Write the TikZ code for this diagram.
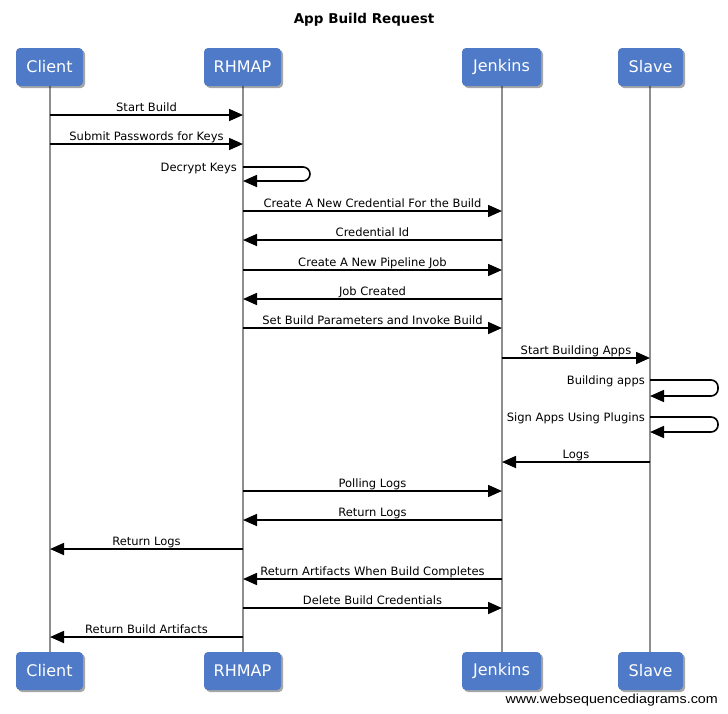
\documentclass[tikz,border=0pt]{standalone}
\usepackage{fontspec}
\setmainfont{DejaVu Sans}
\newfontfamily\footfont{Liberation Sans}
\usetikzlibrary{arrows.meta,shadows}
\definecolor{boxblue}{HTML}{4F7AC7}
\definecolor{lifegray}{HTML}{8E8E8E}
\begin{document}
\begin{tikzpicture}[x=1pt,y=-1pt,
  actor/.style={draw=none,fill=boxblue,rounded corners=4pt,minimum width=#1,minimum height=38pt,
    text=white,font=\fontsize{16}{16}\selectfont,inner sep=0pt,
    drop shadow={shadow xshift=2pt,shadow yshift=-2pt,opacity=0.35,fill=black}},
  lifeline/.style={draw=lifegray,line width=2pt},
  msg/.style={draw=black,line width=1.6pt,-{Triangle[length=14pt,width=12pt]}},
  lbl/.style={font=\fontsize{11.5}{12}\selectfont,inner sep=0pt,anchor=base},
  slbl/.style={font=\fontsize{11.5}{12}\selectfont,inner sep=0pt,anchor=base east}]
\useasboundingbox (0,0) rectangle (728,713);
\node[font=\bfseries\fontsize{13.5}{14}\selectfont] (title) at (364,20) {App Build Request};
% lifelines
\coordinate (ct) at (50,86); \coordinate (cb) at (50,652);
\coordinate (rt) at (243,86); \coordinate (rb) at (243,652);
\coordinate (jt) at (502,86); \coordinate (jb) at (502,652);
\coordinate (st) at (650,86); \coordinate (sb) at (650,652);
\draw[lifeline] (ct) -- (cb);
\draw[lifeline] (rt) -- (rb);
\draw[lifeline] (jt) -- (jb);
\draw[lifeline] (st) -- (sb);
% actor boxes
\node[actor=67pt] (c1) at (49.5,67) {Client};
\node[actor=77pt] (r1) at (242.5,67) {RHMAP};
\node[actor=79pt] (j1) at (501.5,67) {Jenkins};
\node[actor=65pt] (s1) at (650.5,67) {Slave};
\node[actor=67pt] (c2) at (49.5,671) {Client};
\node[actor=77pt] (r2) at (242.5,671) {RHMAP};
\node[actor=79pt] (j2) at (501.5,671) {Jenkins};
\node[actor=65pt] (s2) at (650.5,671) {Slave};
% message endpoints
\foreach \n/\y in {1/115,2/144,4/211,5/240,6/270,7/299,8/328,9/358,12/462,13/491,14/520,15/549,16/579,17/608,18/637}{
  \coordinate (C\n) at (50,\y);
  \coordinate (R\n) at (243,\y);
  \coordinate (J\n) at (502,\y);
  \coordinate (S\n) at (650,\y);
}
\draw[msg] (C1) -- node[lbl,yshift=4pt]{Start Build} (R1);
\draw[msg] (C2) -- node[lbl,yshift=4pt]{Submit Passwords for Keys} (R2);
% self message decrypt
\coordinate (d1) at (243,167); \coordinate (d2) at (243,181);
\draw[line width=1.6pt,rounded corners=7pt,-{Triangle[length=14pt,width=12pt]}] (d1) -- (310,167) -- (310,181) -- (d2);
\node[slbl] (dk) at (237,171) {Decrypt Keys};
\draw[msg] (R4) -- node[lbl,yshift=4pt]{Create A New Credential For the Build} (J4);
\draw[msg] (J5) -- node[lbl,yshift=4pt]{Credential Id} (R5);
\draw[msg] (R6) -- node[lbl,yshift=4pt]{Create A New Pipeline Job} (J6);
\draw[msg] (J7) -- node[lbl,yshift=4pt]{Job Created} (R7);
\draw[msg] (R8) -- node[lbl,yshift=4pt]{Set Build Parameters and Invoke Build} (J8);
\draw[msg] (J9) -- node[lbl,yshift=4pt]{Start Building Apps} (S9);
% self messages on slave
\coordinate (b1) at (650,380); \coordinate (b2) at (650,396);
\draw[line width=1.6pt,rounded corners=7pt,-{Triangle[length=14pt,width=12pt]}] (b1) -- (718,380) -- (718,396) -- (b2);
\node[slbl] (ba) at (645,384) {Building apps};
\coordinate (g1) at (650,417); \coordinate (g2) at (650,432);
\draw[line width=1.6pt,rounded corners=7pt,-{Triangle[length=14pt,width=12pt]}] (g1) -- (718,417) -- (718,432) -- (g2);
\node[slbl] (sa) at (645,421) {Sign Apps Using Plugins};
\draw[msg] (S12) -- node[lbl,yshift=4pt]{Logs} (J12);
\draw[msg] (R13) -- node[lbl,yshift=4pt]{Polling Logs} (J13);
\draw[msg] (J14) -- node[lbl,yshift=4pt]{Return Logs} (R14);
\draw[msg] (R15) -- node[lbl,yshift=4pt]{Return Logs} (C15);
\draw[msg] (J16) -- node[lbl,yshift=4pt]{Return Artifacts When Build Completes} (R16);
\draw[msg] (R17) -- node[lbl,yshift=4pt]{Delete Build Credentials} (J17);
\draw[msg] (R18) -- node[lbl,yshift=4pt]{Return Build Artifacts} (C18);
\node[anchor=base east,inner sep=0pt] (foot) at (718,703) {\scalebox{1.1}[1]{\footfont\fontsize{13}{13}\selectfont www.websequencediagrams.com}};
\end{tikzpicture}
\end{document}
